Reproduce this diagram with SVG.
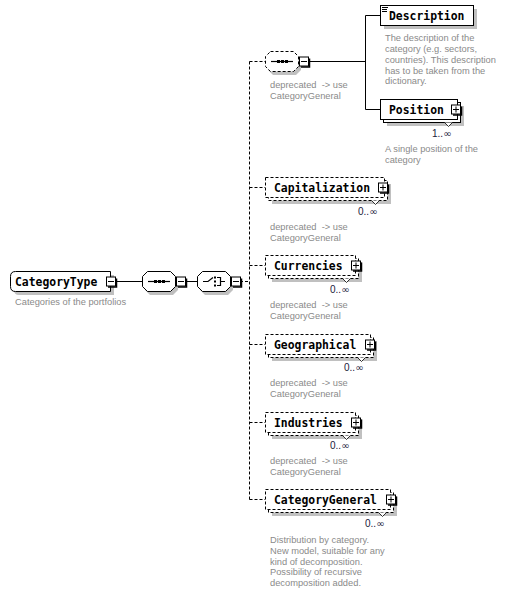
<svg xmlns="http://www.w3.org/2000/svg" width="506" height="593" viewBox="0 0 506 593">
<style>
.bg{fill:#ffffff}
.box{fill:#ffffff;stroke:#000;stroke-width:1}
.dbox{fill:#ffffff;stroke:#000;stroke-width:1;stroke-dasharray:3,2}
.sh{fill:#c0c0c0}
.lbl{font-family:"DejaVu Sans Mono",monospace;font-weight:bold;font-size:11.4px;fill:#000}
.doc{font-family:"Liberation Sans",Arial,sans-serif;font-size:9.3px;fill:#8a8a8a;white-space:pre}
.mul{font-family:"Liberation Sans",Arial,sans-serif;font-size:10px;fill:#1a1a3a}
.inf{font-family:"DejaVu Sans",sans-serif;font-size:10px}
.ln{stroke:#000;stroke-width:1;fill:none}
.dl{stroke:#000;stroke-width:1;fill:none;stroke-dasharray:3,2}
.btn{fill:#fff;stroke:#000;stroke-width:1}
.ic{stroke:#000;stroke-width:1.2;fill:none}
</style>
<defs>
<g id="minus"><path d="M2,10.5 H10.5 V2" stroke="#000" stroke-width="1.5" fill="none"/><rect class="btn" x="0.5" y="0.5" width="9" height="9"/><line class="ln" x1="2" y1="5" x2="8" y2="5"/></g>
<g id="plus"><path d="M2,10.5 H10.5 V2" stroke="#000" stroke-width="1.5" fill="none"/><rect class="btn" x="0.5" y="0.5" width="9" height="9"/><line class="ln" x1="2" y1="5" x2="8" y2="5"/><line class="ln" x1="5" y1="2" x2="5" y2="8"/></g>
<path id="vmark" d="M-4,0 L0,4 L4,0" fill="#fff" stroke="#000" stroke-width="0.8"/>
</defs>
<rect class="bg" x="0" y="0" width="506" height="593"/>

<g id="connectors">
<line class="ln" x1="116" y1="281.5" x2="142" y2="281.5"/>
<line class="ln" x1="185" y1="281.5" x2="197" y2="281.5"/>
<line class="dl" x1="240" y1="281.5" x2="249.5" y2="281.5"/>
<line class="dl" x1="249.5" y1="61.5" x2="249.5" y2="499.5"/>
<line class="dl" x1="249.5" y1="61.5" x2="265" y2="61.5"/>
<line class="dl" x1="249.5" y1="187.5" x2="265" y2="187.5"/>
<line class="dl" x1="249.5" y1="265.5" x2="265" y2="265.5"/>
<line class="dl" x1="249.5" y1="344.5" x2="265" y2="344.5"/>
<line class="dl" x1="249.5" y1="422.5" x2="265" y2="422.5"/>
<line class="dl" x1="249.5" y1="499.5" x2="265" y2="499.5"/>
<line class="ln" x1="309" y1="61.5" x2="365.5" y2="61.5"/>
<line class="ln" x1="365.5" y1="15.5" x2="365.5" y2="109.5"/>
<line class="ln" x1="365.5" y1="15.5" x2="380" y2="15.5"/>
<line class="ln" x1="365.5" y1="109.5" x2="380" y2="109.5"/>
</g>

<g id="CategoryType">
<path class="sh" d="M19,275 H114 V295 H19 Q14,295 14,290 V280 Q14,275 19,275 Z"/>
<path class="box" d="M15.5,271.5 H110.5 V291.5 H15.5 Q10.5,291.5 10.5,286.5 V276.5 Q10.5,271.5 15.5,271.5 Z"/>
<text class="lbl" x="15" y="286">CategoryType</text>
<use href="#minus" x="106" y="276.5"/>
<text class="doc" x="15" y="305">Categories of the portfolios</text>
</g>

<g id="sequence">
<path class="sh" d="M150,275 H173 L178,280 V290 L173,295 H150 L145,290 V280 Z"/>
<path class="box" d="M147.5,271.5 H170.5 L175.5,276.5 V286.5 L170.5,291.5 H147.5 L142.5,286.5 V276.5 Z"/>
<line class="ic" x1="148" y1="281.5" x2="170" y2="281.5"/>
<rect x="154" y="280" width="3" height="3" fill="#000"/>
<rect x="158" y="280" width="3" height="3" fill="#000"/>
<rect x="162" y="280" width="3" height="3" fill="#000"/>
<use href="#minus" x="176" y="276.5"/>
</g>

<g id="choice">
<path class="sh" d="M205,275 H228 L233,280 V290 L228,295 H205 L200,290 V280 Z"/>
<path class="box" d="M202.5,271.5 H225.5 L230.5,276.5 V286.5 L225.5,291.5 H202.5 L197.5,286.5 V276.5 Z"/>
<path class="ic" d="M203,281.5 H208 L213,277.5"/>
<rect x="214" y="276.5" width="2" height="2" fill="#000"/>
<rect x="214" y="280.5" width="2" height="2" fill="#000"/>
<rect x="214" y="284.5" width="2" height="2" fill="#000"/>
<path class="ic" d="M217,277.5 H220.5 V285.5 H217 M220.5,281.5 H225"/>
<use href="#minus" x="231" y="276.5"/>
</g>

<g id="sequence2">
<path class="sh" d="M273,55 H296 L301,60 V70 L296,75 H273 L268,70 V60 Z"/>
<path class="dbox" d="M270.5,51.5 H293.5 L298.5,56.5 V66.5 L293.5,71.5 H270.5 L265.5,66.5 V56.5 Z"/>
<line class="ic" x1="271" y1="61.5" x2="293" y2="61.5"/>
<rect x="277" y="60" width="3" height="3" fill="#000"/>
<rect x="281" y="60" width="3" height="3" fill="#000"/>
<rect x="285" y="60" width="3" height="3" fill="#000"/>
<use href="#minus" x="299" y="56.5"/>
<text class="doc" x="270" y="88">deprecated  -&gt; use</text>
<text class="doc" x="270" y="99">CategoryGeneral</text>
</g>

<g id="Description">
<rect class="sh" x="384" y="9" width="93" height="20"/>
<rect class="box" x="380.5" y="5.5" width="93" height="20"/>
<path d="M382,7.5 H388 M382,9.5 H387 M382,11.5 H387" stroke="#000" stroke-width="1"/>
<text class="lbl" x="389" y="20">Description</text>
<text class="doc" x="385" y="41">The description of the</text>
<text class="doc" x="385" y="52">category (e.g. sectors,</text>
<text class="doc" x="385" y="62.5">countries). This description</text>
<text class="doc" x="385" y="73.5">has to be taken from the</text>
<text class="doc" x="385" y="84">dictionary.</text>
</g>

<g id="Position">
<rect class="sh" x="387" y="106" width="77" height="20"/>
<rect class="box" x="383.5" y="102.5" width="77" height="20"/>
<rect class="box" x="380.5" y="99.5" width="77" height="20"/>
<use href="#vmark" x="448.5" y="122.5"/>
<text class="lbl" x="389" y="114">Position</text>
<use href="#plus" x="451" y="104.5"/>
<text class="mul" x="432" y="137">1..<tspan class="inf">∞</tspan></text>
<text class="doc" x="385" y="152">A single position of the</text>
<text class="doc" x="385" y="163">category</text>
</g>

<g id="Capitalization">
<rect class="sh" x="272" y="184" width="119" height="20"/>
<rect class="dbox" x="268.5" y="180.5" width="119" height="20"/>
<rect class="dbox" x="265.5" y="177.5" width="119" height="20"/>
<use href="#vmark" x="375.5" y="200.5"/>
<text class="lbl" x="274" y="192">Capitalization</text>
<use href="#plus" x="378" y="182.5"/>
<text class="mul" x="358" y="215">0..<tspan class="inf">∞</tspan></text>
<text class="doc" x="270" y="230">deprecated  -&gt; use</text>
<text class="doc" x="270" y="241">CategoryGeneral</text>
</g>

<g id="Currencies">
<rect class="sh" x="272" y="262" width="90" height="20"/>
<rect class="dbox" x="268.5" y="258.5" width="90" height="20"/>
<rect class="dbox" x="265.5" y="255.5" width="90" height="20"/>
<use href="#vmark" x="346.5" y="278.5"/>
<text class="lbl" x="274" y="270">Currencies</text>
<use href="#plus" x="351" y="260.5"/>
<text class="mul" x="330" y="293">0..<tspan class="inf">∞</tspan></text>
<text class="doc" x="270" y="308">deprecated  -&gt; use</text>
<text class="doc" x="270" y="319">CategoryGeneral</text>
</g>

<g id="Geographical">
<rect class="sh" x="272" y="341" width="105" height="20"/>
<rect class="dbox" x="268.5" y="337.5" width="105" height="20"/>
<rect class="dbox" x="265.5" y="334.5" width="105" height="20"/>
<use href="#vmark" x="361.5" y="357.5"/>
<text class="lbl" x="274" y="349">Geographical</text>
<use href="#plus" x="365" y="339.5"/>
<text class="mul" x="344" y="371">0..<tspan class="inf">∞</tspan></text>
<text class="doc" x="270" y="386">deprecated  -&gt; use</text>
<text class="doc" x="270" y="397">CategoryGeneral</text>
</g>

<g id="Industries">
<rect class="sh" x="272" y="419" width="90" height="20"/>
<rect class="dbox" x="268.5" y="415.5" width="90" height="20"/>
<rect class="dbox" x="265.5" y="412.5" width="90" height="20"/>
<use href="#vmark" x="346.5" y="435.5"/>
<text class="lbl" x="274" y="427">Industries</text>
<use href="#plus" x="351" y="417.5"/>
<text class="mul" x="330" y="449">0..<tspan class="inf">∞</tspan></text>
<text class="doc" x="270" y="464">deprecated  -&gt; use</text>
<text class="doc" x="270" y="475">CategoryGeneral</text>
</g>

<g id="CategoryGeneral">
<rect class="sh" x="272" y="496" width="125" height="20"/>
<rect class="dbox" x="268.5" y="492.5" width="125" height="20"/>
<rect class="dbox" x="265.5" y="489.5" width="125" height="20"/>
<use href="#vmark" x="382.5" y="512.5"/>
<text class="lbl" x="274" y="504">CategoryGeneral</text>
<use href="#plus" x="386" y="494.5"/>
<text class="mul" x="365" y="527">0..<tspan class="inf">∞</tspan></text>
<text class="doc" x="270" y="543">Distribution by category.</text>
<text class="doc" x="270" y="553.5">New model, suitable for any</text>
<text class="doc" x="270" y="564.5">kind of decomposition.</text>
<text class="doc" x="270" y="575">Possibility of recursive</text>
<text class="doc" x="270" y="586">decomposition added.</text>
</g>
</svg>
